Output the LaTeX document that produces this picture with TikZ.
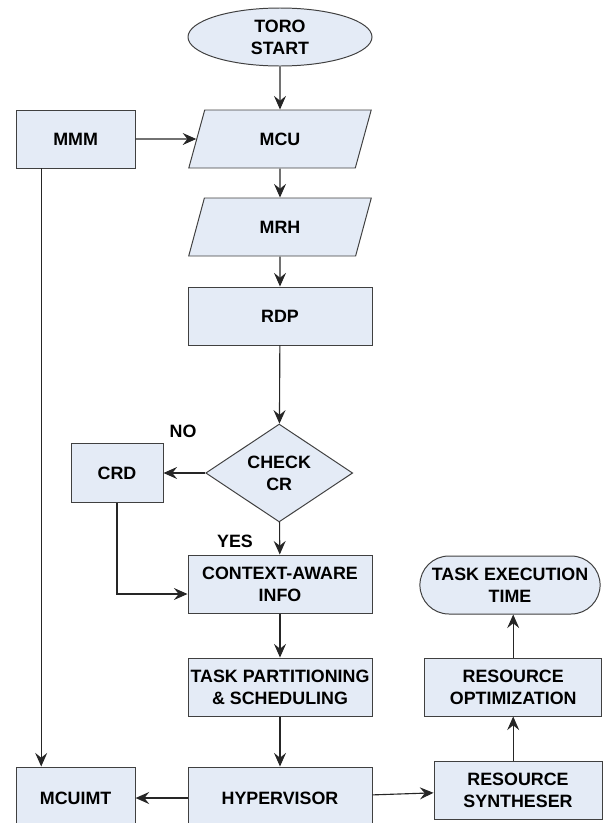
\documentclass[tikz,border=0pt]{standalone}
\usepackage{fontspec}
\setmainfont{Liberation Sans}
\usepackage{tikz}
\usetikzlibrary{arrows.meta, positioning, shapes.geometric, shapes.misc, calc}

\definecolor{boxfill}{HTML}{E4EBF6}
\definecolor{boxline}{HTML}{404040}

\begin{document}
\begin{tikzpicture}[
    font=\fontsize{12.7}{15.5}\selectfont\bfseries,
    box/.style={rectangle, draw=boxline, fill=boxfill, line width=0.7pt,
      minimum width=4.6cm, minimum height=1.45cm, align=center, inner sep=1pt},
    smallbox/.style={box, minimum width=2.975cm},
    iobox/.style={trapezium, trapezium left angle=75, trapezium right angle=105,
      trapezium stretches=true, draw=boxline, fill=boxfill, line width=0.7pt,
      minimum width=4.575cm, minimum height=1.45cm, align=center, inner sep=2pt},
    startbox/.style={ellipse, draw=boxline, fill=boxfill, line width=0.7pt,
      minimum width=4.6cm, minimum height=1.45cm, align=center, inner sep=0pt},
    endbox/.style={rounded rectangle, draw=boxline, fill=boxfill, line width=0.7pt,
      minimum width=4.575cm, minimum height=1.45cm, align=center, inner sep=1pt},
    decision/.style={diamond, draw=boxline, fill=boxfill, line width=0.7pt,
      minimum width=3.675cm, minimum height=2.325cm, align=center, inner sep=0pt},
    arrow/.style={-{Stealth[length=3.4mm, width=3mm, inset=1.2mm]}, line width=0.8pt, draw=black!85},
  ]
  \useasboundingbox (0,0) rectangle (15.075,-20.575);

  \node[startbox]  (start)   at (7,-0.925)      {TORO\\START};
  \node[iobox]     (mcu)     at (7,-3.475)      {MCU};
  \node[smallbox]  (mmm)     at (1.89,-3.475)   {MMM};
  \node[iobox]     (mrh)     at (7,-5.675)      {MRH};
  \node[box]       (rdp)     at (7,-7.9)        {RDP};
  \node[decision]  (check)   at (6.98,-11.825)  {CHECK\\CR};
  \node[box, minimum width=2.3cm, minimum height=1.475cm]
                   (crd)     at (2.925,-11.825) {CRD};
  \node[box]       (context) at (7,-14.6)       {CONTEXT-AWARE\\INFO};
  \node[endbox]    (tet)     at (12.75,-14.625) {TASK EXECUTION\\TIME};
  \node[box]       (task)    at (7,-17.175)     {TASK PARTITIONING\\\& SCHEDULING};
  \node[box, minimum width=4.425cm]
                   (opt)     at (12.83,-17.175) {RESOURCE\\OPTIMIZATION};
  \node[box, minimum height=1.55cm]
                   (hyper)   at (7,-19.95)      {HYPERVISOR};
  \node[smallbox, minimum height=1.55cm]
                   (mcuimt)  at (1.89,-19.95)   {MCUIMT};
  \node[box, minimum width=4.2cm]
                   (synth)   at (12.95,-19.75)  {RESOURCE\\SYNTHESER};

  \node (no)  at (4.575,-10.775) {NO};
  \node (yes) at (5.875,-13.525) {YES};

  \draw[arrow] (start) -- (mcu);
  \draw[arrow] (mmm) -- (mcu);
  \draw[arrow] (mcu) -- (mrh);
  \draw[arrow] (mrh) -- (rdp);
  \draw[arrow] (rdp) -- (check);
  \draw[arrow] (check) -- (crd);
  \draw[arrow] (check) -- (context);
  \draw[arrow] (crd.south) |- ([yshift=-0.25cm]context.west);
  \draw[arrow] (context) -- (task);
  \draw[arrow] (task) -- (hyper);
  \draw[arrow] ([xshift=-0.86cm]mmm.south) -- ([xshift=-0.86cm]mmm.south |- mcuimt.north);
  \draw[arrow] (hyper) -- (mcuimt);
  \draw[arrow] (hyper) -- (synth);
  \draw[arrow] (opt.south |- synth.north) -- (opt.south);
  \draw[arrow] (opt.north) -- (opt.north |- tet.south);
\end{tikzpicture}
\end{document}
